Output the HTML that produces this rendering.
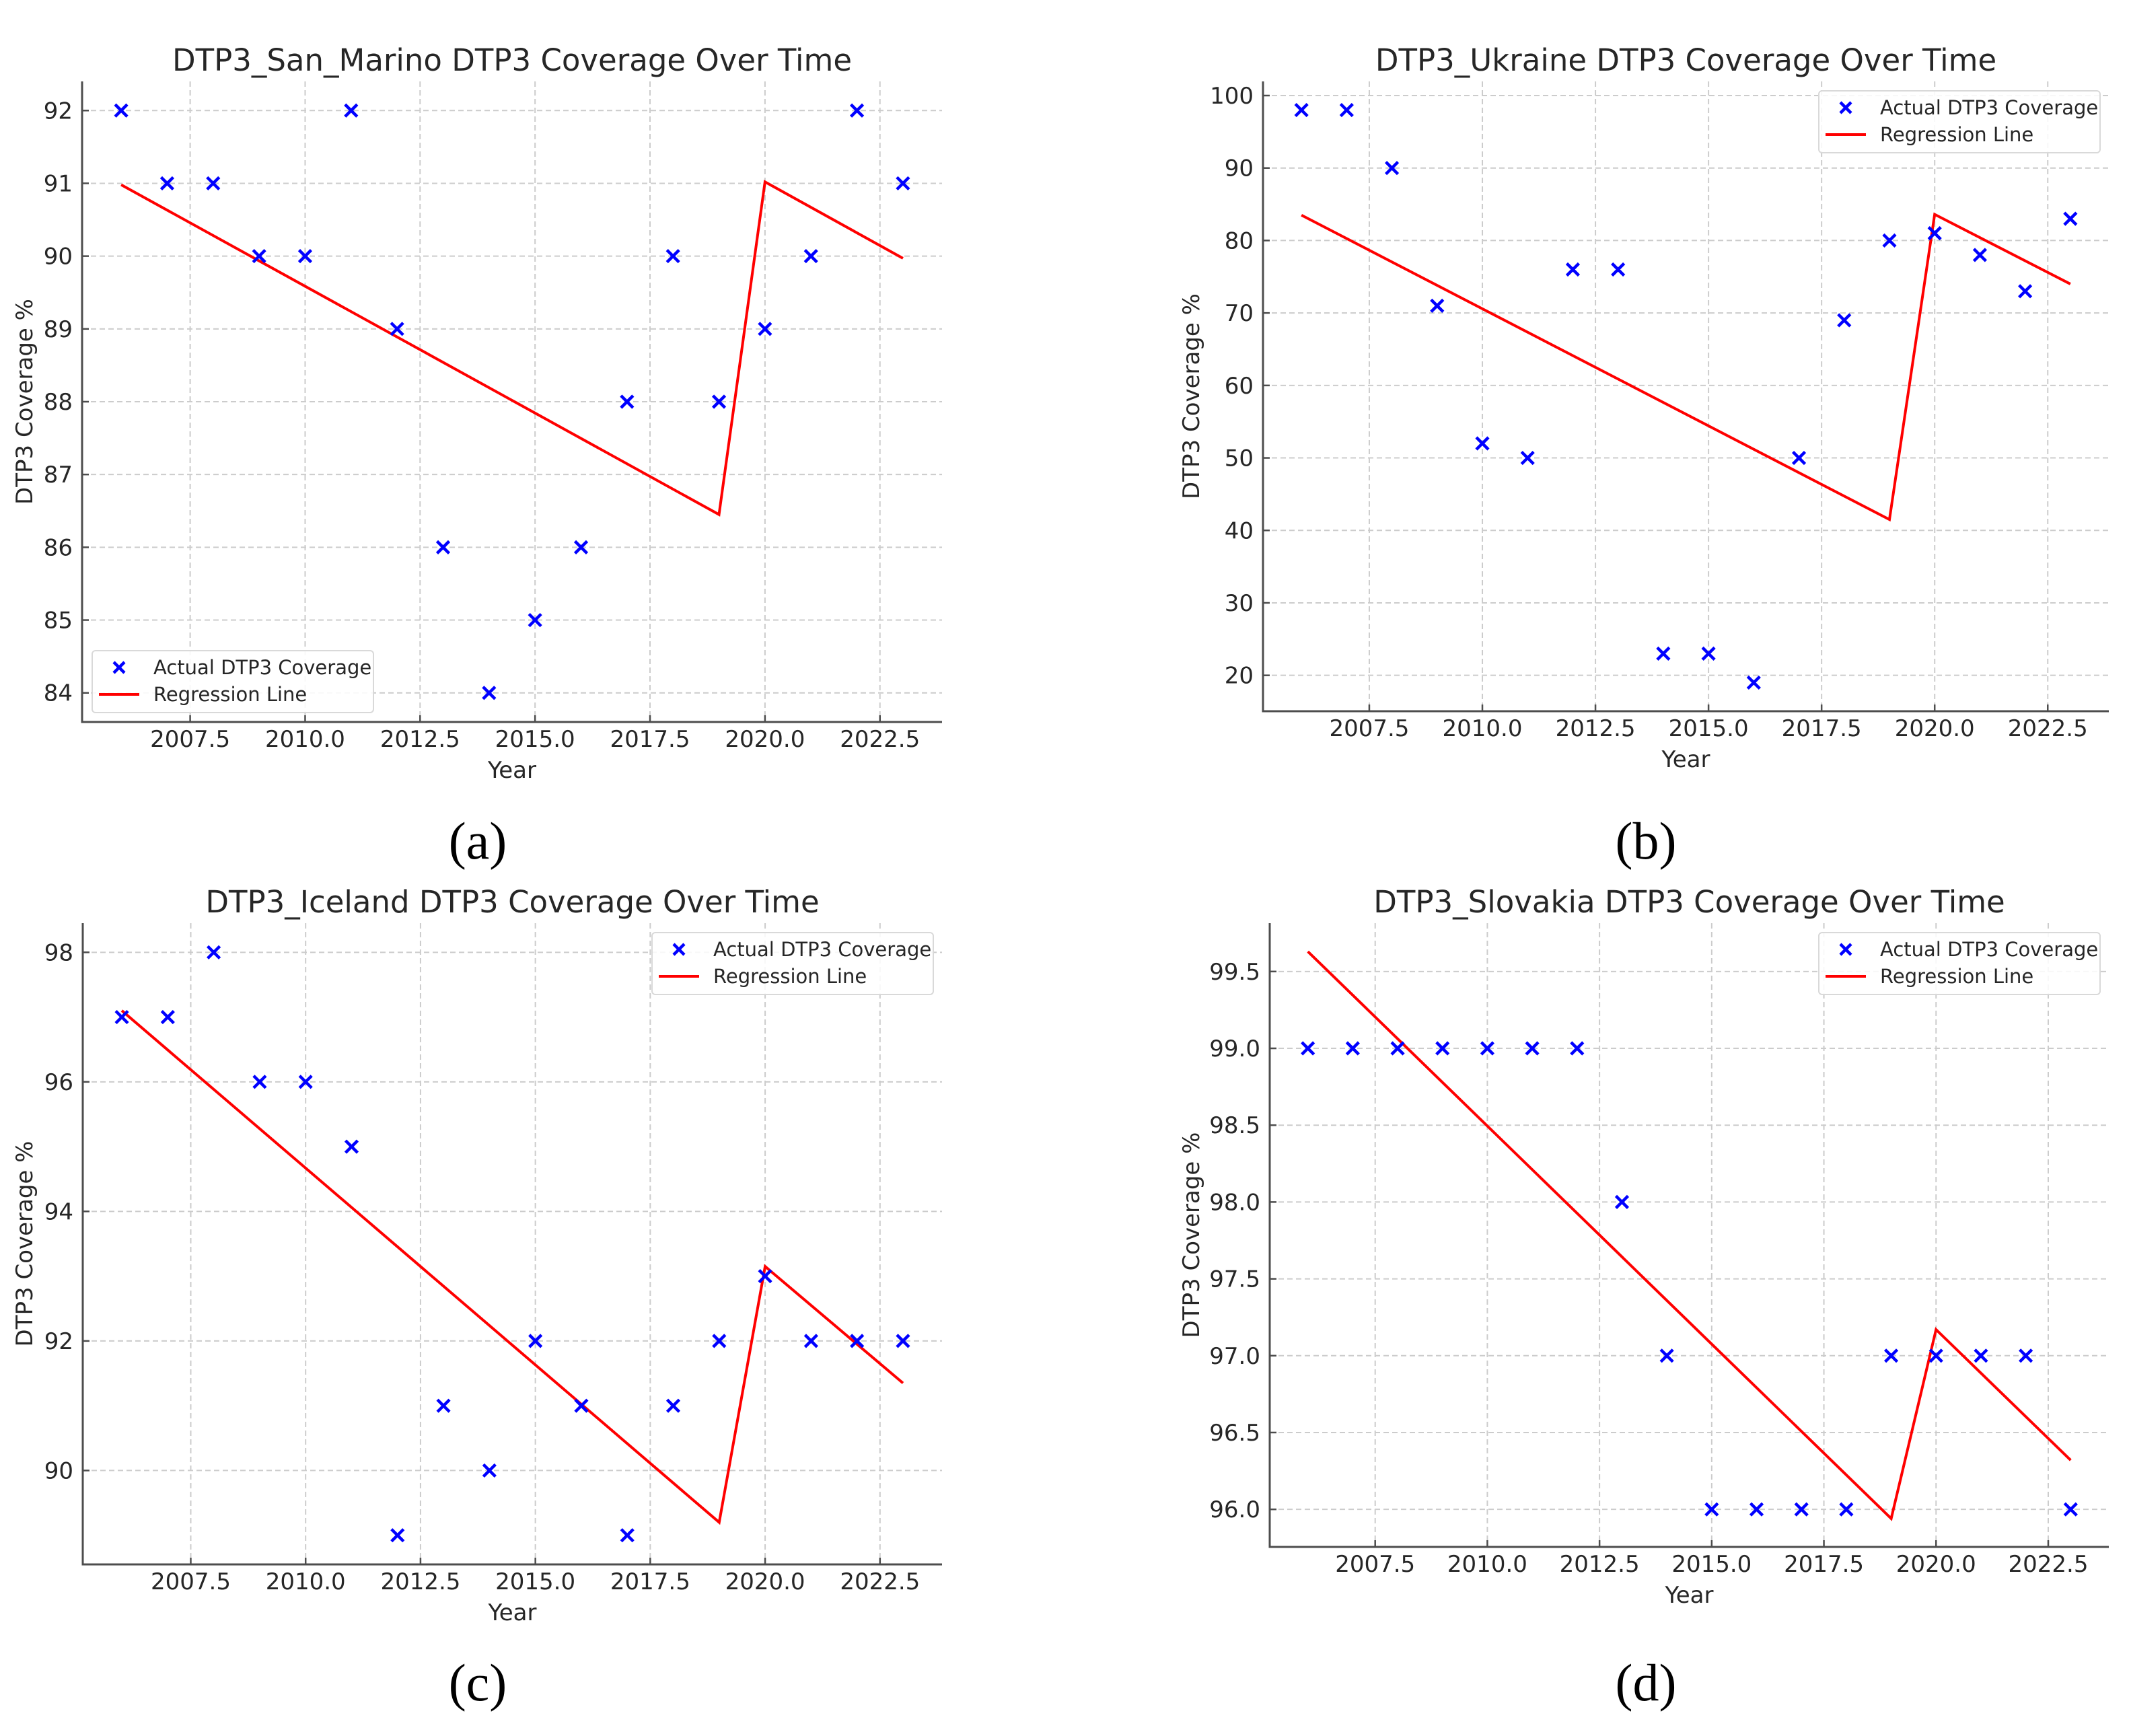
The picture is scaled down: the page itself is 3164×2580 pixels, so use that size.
<!DOCTYPE html>
<html><head><meta charset="utf-8"><style>
html,body{margin:0;padding:0;background:#fff}
svg text{font-family:"DejaVu Sans","Liberation Sans",sans-serif;fill:#262626}
.cap{font-family:"Liberation Serif",serif;fill:#000}
</style></head><body>
<svg id="fig" xmlns="http://www.w3.org/2000/svg" width="3164" height="2575" viewBox="0 0 3164 2575"></svg>
<script>
const years = [2006,2007,2008,2009,2010,2011,2012,2013,2014,2015,2016,2017,2018,2019,2020,2021,2022,2023];
const sanMarinoValues = [92,91,91,90,90,92,89,86,84,85,86,88,90,88,89,90,92,91];
const ukraineValues = [98,98,90,71,52,50,76,76,23,23,19,50,69,80,81,78,73,83];
const icelandValues = [97,97,98,96,96,95,89,91,90,92,91,89,91,92,93,92,92,92];
const slovakiaValues = [99,99,99,99,99,99,99,98,97,96,96,96,96,97,97,97,97,96];
const regYears = [2006,2019,2020,2023];
const sanMarinoReg = [90.98,86.45,91.02,89.97];
const ukraineReg = [83.5,41.5,83.6,74.0];
const icelandReg = [97.1,89.2,93.15,91.35];
const slovakiaReg = [99.63,95.94,97.17,96.32];
const xTicks = [2007.5,2010.0,2012.5,2015.0,2017.5,2020.0,2022.5];
const sanMarinoTicks = [84,85,86,87,88,89,90,91,92];
const ukraineTicks = [20,30,40,50,60,70,80,90,100];
const icelandTicks = [90,92,94,96,98];
const slovakiaTicks = [96.0,96.5,97.0,97.5,98.0,98.5,99.0,99.5];

const NS='http://www.w3.org/2000/svg';
const svg=document.getElementById('fig');
function mk(tag,attrs,parent){const e=document.createElementNS(NS,tag);for(const k in attrs)e.setAttribute(k,attrs[k]);(parent||svg).appendChild(e);return e;}

const panels=[
 {id:'a',title:'DTP3_San_Marino DTP3 Coverage Over Time',L:122,R:1400,T:121,B:1073,vals:sanMarinoValues,reg:sanMarinoReg,ticks:sanMarinoTicks,dec:0,legend:'ll',cap:'(a)',cx:710,cy:1276},
 {id:'b',title:'DTP3_Ukraine DTP3 Coverage Over Time',L:1877,R:3134,T:121,B:1057,vals:ukraineValues,reg:ukraineReg,ticks:ukraineTicks,dec:0,legend:'ur',cap:'(b)',cx:2446,cy:1276},
 {id:'c',title:'DTP3_Iceland DTP3 Coverage Over Time',L:123,R:1400,T:1372,B:2325,vals:icelandValues,reg:icelandReg,ticks:icelandTicks,dec:0,legend:'ur',cap:'(c)',cx:710,cy:2527},
 {id:'d',title:'DTP3_Slovakia DTP3 Coverage Over Time',L:1887,R:3134,T:1372,B:2299,vals:slovakiaValues,reg:slovakiaReg,ticks:slovakiaTicks,dec:1,legend:'ur',cap:'(d)',cx:2446,cy:2527}
];

panels.forEach(p=>{
  const g=mk('g',{});
  
  
  const xmin=Math.min(...years),xmax=Math.max(...years),xm=(xmax-xmin)*0.05;
  const allY=p.vals.concat(p.reg);
  const ymin=Math.min(...allY),ymax=Math.max(...allY),ym=(ymax-ymin)*0.05;
  const x0=xmin-xm,x1=xmax+xm,y0=ymin-ym,y1=ymax+ym;
  const X=v=>p.L+(v-x0)/(x1-x0)*(p.R-p.L);
  const Y=v=>p.B-(v-y0)/(y1-y0)*(p.B-p.T);
  // grid
  xTicks.forEach(t=>{
    const l=mk('line',{x1:X(t),x2:X(t),y1:p.T,y2:p.B,stroke:'#cccccc','stroke-width':2,'stroke-dasharray':'8,5'},g);
    
    
  });
  p.ticks.forEach(t=>{
    const l=mk('line',{x1:p.L,x2:p.R,y1:Y(t),y2:Y(t),stroke:'#cccccc','stroke-width':2,'stroke-dasharray':'8,5'},g);
    
    
  });
  // spines
  const sp1=mk('line',{x1:p.L,x2:p.L,y1:p.T,y2:p.B+1.5,stroke:'#4d4d4d','stroke-width':3},g);
  
  
  const sp2=mk('line',{x1:p.L-1.5,x2:p.R,y1:p.B,y2:p.B,stroke:'#4d4d4d','stroke-width':3},g);
  
  
  // x ticks
  xTicks.forEach(t=>{
    mk('line',{x1:X(t),x2:X(t),y1:p.B,y2:p.B-10,stroke:'#4d4d4d','stroke-width':2.5},g);
    const tx=mk('text',{x:X(t),y:p.B+37,'font-size':34,'text-anchor':'middle'},g);
    tx.textContent=t.toFixed(1);
    
    
  });
  p.ticks.forEach(t=>{
    mk('line',{x1:p.L,x2:p.L+10,y1:Y(t),y2:Y(t),stroke:'#4d4d4d','stroke-width':2.5},g);
    const tx=mk('text',{x:p.L-14,y:Y(t)+12,'font-size':34,'text-anchor':'end'},g);
    tx.textContent=t.toFixed(p.dec);
    
    
  });
  // regression line
  const pts=regYears.map((yr,i)=>X(yr)+','+Y(p.reg[i])).join(' ');
  const pl=mk('polyline',{points:pts,fill:'none',stroke:'#ff0000','stroke-width':4,'stroke-linejoin':'miter'},g);
  
  
  // scatter
  years.forEach((yr,i)=>{
    const cx=X(yr),cy=Y(p.vals[i]),s=9;
    const m=mk('path',{d:`M${cx-s},${cy-s}L${cx+s},${cy+s}M${cx-s},${cy+s}L${cx+s},${cy-s}`,stroke:'#0000ff','stroke-width':4.5,fill:'none'},g);
    
    
  });
  // title
  const ti=mk('text',{x:(p.L+p.R)/2,y:p.T-16,'font-size':45,'text-anchor':'middle'},g);
  ti.textContent=p.title;
  
  
  const xl=mk('text',{x:(p.L+p.R)/2,y:p.B+83,'font-size':34,'text-anchor':'middle'},g);
  xl.textContent='Year';
  
  
  const yxl=(p.id==='a'||p.id==='c')?48:1782;
  const yc=(p.T+p.B)/2;
  const yl=mk('text',{x:yxl,y:yc,'font-size':34,'text-anchor':'middle',transform:`rotate(-90 ${yxl} ${yc})`},g);
  yl.textContent='DTP3 Coverage %';
  
  
  // legend
  const lw=418,lh=92;
  const lx=p.legend==='ll'?p.L+15:p.R-13-lw;
  const ly=p.legend==='ll'?p.B-14-lh:p.T+14;
  const lg=mk('g',{},g);
  
  
  mk('rect',{x:lx,y:ly,width:lw,height:lh,rx:5,fill:'#fff','fill-opacity':0.85,stroke:'#d9d9d9','stroke-width':2},lg);
  const r1=ly+25,r2=ly+65,mx=lx+40;
  const lm=mk('path',{d:`M${mx-8},${r1-8}L${mx+8},${r1+8}M${mx-8},${r1+8}L${mx+8},${r1-8}`,stroke:'#0000ff','stroke-width':4.5},lg);
  
  
  const t1=mk('text',{x:lx+91,y:r1+10,'font-size':29},lg);
  t1.textContent='Actual DTP3 Coverage';
  
  
  const ll=mk('line',{x1:lx+10,x2:lx+70,y1:r2,y2:r2,stroke:'#ff0000','stroke-width':4},lg);
  
  
  const t2=mk('text',{x:lx+91,y:r2+10,'font-size':29},lg);
  t2.textContent='Regression Line';
  
  
  // caption
  const cp=mk('text',{x:p.cx,y:p.cy,'font-size':78,'text-anchor':'middle',class:'cap'},g);
  cp.textContent=p.cap;
  
  
});
</script>
</body></html>
